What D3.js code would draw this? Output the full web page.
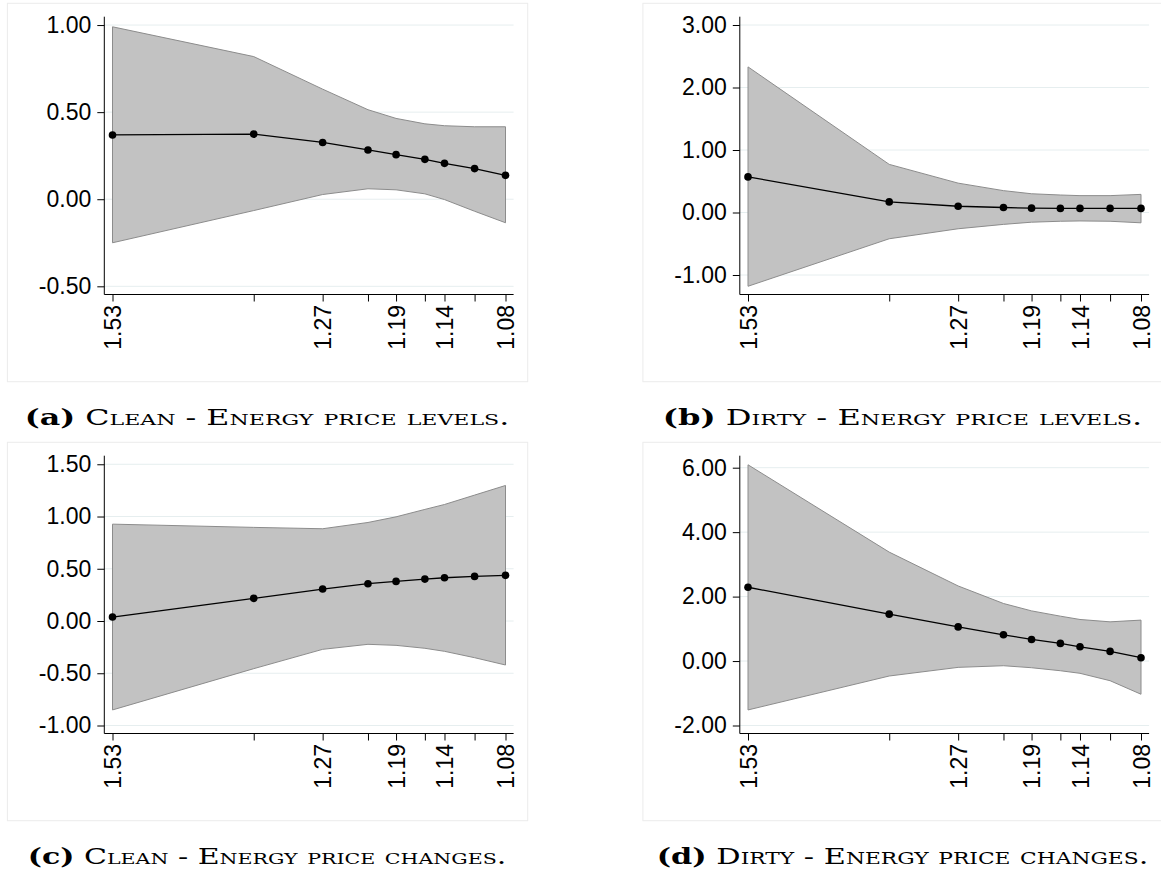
<!doctype html>
<html>
<head>
<meta charset="UTF-8">
<title>Energy price panels</title>
<script src="https://cdn.jsdelivr.net/npm/d3@7"></script>
<style>
  body { margin: 0; background: #fff; }
  svg { display: block; }
</style>
</head>
<body>
<script>
// x positions (reversed log axis), labelled subset
var xVals = [1.53, 1.35, 1.27, 1.22, 1.19, 1.16, 1.14, 1.11, 1.08];
var xLabels = [1.53, 1.27, 1.19, 1.14, 1.08];

// (a) clean - price levels
var aEst = [0.369, 0.374, 0.326, 0.283, 0.256, 0.229, 0.206, 0.176, 0.137];
var aHi  = [0.990, 0.819, 0.632, 0.514, 0.464, 0.433, 0.422, 0.416, 0.416];
var aLo  = [-0.250, -0.065, 0.027, 0.060, 0.054, 0.031, -0.002, -0.069, -0.135];
var aTicks = [-0.5, 0, 0.5, 1];

// (b) dirty - price levels
var bEst = [0.57, 0.17, 0.10, 0.08, 0.07, 0.066, 0.066, 0.066, 0.066];
var bHi  = [2.33, 0.77, 0.47, 0.35, 0.30, 0.28, 0.27, 0.27, 0.29];
var bLo  = [-1.18, -0.42, -0.26, -0.19, -0.155, -0.14, -0.135, -0.14, -0.165];
var bTicks = [-1, 0, 1, 2, 3];

// (c) clean - price changes
var cEst = [0.038, 0.217, 0.306, 0.357, 0.379, 0.401, 0.414, 0.427, 0.437];
var cHi  = [0.927, 0.896, 0.883, 0.943, 0.997, 1.068, 1.115, 1.205, 1.297];
var cLo  = [-0.851, -0.456, -0.271, -0.223, -0.233, -0.261, -0.290, -0.351, -0.421];
var cTicks = [-1, -0.5, 0, 0.5, 1, 1.5];

// (d) dirty - price changes
var dEst = [2.29, 1.455, 1.06, 0.815, 0.67, 0.547, 0.443, 0.30, 0.103];
var dHi  = [6.09, 3.38, 2.33, 1.786, 1.557, 1.393, 1.29, 1.217, 1.27];
var dLo  = [-1.517, -0.464, -0.196, -0.145, -0.207, -0.30, -0.38, -0.61, -1.03];
var dTicks = [-2, 0, 2, 4, 6];

var captionTags = ["(a)", "(b)", "(c)", "(d)"];
var captionTexts = ["Clean - Energy price levels.", "Dirty - Energy price levels.",
                    "Clean - Energy price changes.", "Dirty - Energy price changes."];
var captionWidths = [478, 476, 478, 476];

var W = 1161, H = 877;
var svg = d3.select("body").append("svg").attr("width", W).attr("height", H);

var panels = [
  {est: aEst, hi: aHi, lo: aLo, ticks: aTicks, dom: [-0.547, 1.048], dx: 0,     dy: 0},
  {est: bEst, hi: bHi, lo: bLo, ticks: bTicks, dom: [-1.312, 3.133], dx: 635.5, dy: 0},
  {est: cEst, hi: cHi, lo: cLo, ticks: cTicks, dom: [-1.0765, 1.582], dx: 0,    dy: 439},
  {est: dEst, hi: dHi, lo: dLo, ticks: dTicks, dom: [-2.248, 6.372], dx: 635.5, dy: 439}
];

// geometry of one panel (top-left panel coords)
var axisX = 104.3, plotL = 112.5, plotR = 505.5, plotEdge = 513.6;
var plotTop = 16.7, plotBot = 294.5;

var x = d3.scaleLog().domain([1.53, 1.08]).range([plotL, plotR]);
var fmt = function(d){ return d.toFixed(2); };

panels.forEach(function(p, i){
  var g = svg.append("g").attr("transform", "translate(" + p.dx + "," + p.dy + ")");
  var y = d3.scaleLinear().domain(p.dom).range([plotBot, plotTop]);

  // faint graph region border
  g.append("rect")
    .attr("x", 7.4).attr("y", 3.3).attr("width", 520.3).attr("height", 378.4)
    .attr("fill", "none").attr("stroke", "#ececec").attr("stroke-width", 1);

  // gridlines
  g.selectAll("line.grid").data(p.ticks).enter().append("line")
    .attr("class", "grid")
    .attr("x1", axisX).attr("x2", plotEdge)
    .attr("y1", function(d){ return y(d); }).attr("y2", function(d){ return y(d); })
    .attr("stroke", "#e6eeef").attr("stroke-width", 1);

  // confidence band
  var area = d3.area()
    .x(function(d, j){ return x(xVals[j]); })
    .y0(function(d, j){ return y(p.lo[j]); })
    .y1(function(d, j){ return y(p.hi[j]); });
  g.append("path").datum(p.est).attr("d", area)
    .attr("fill", "#c2c2c2").attr("stroke", "#8c8c8c").attr("stroke-width", 1);

  // estimate line + markers
  var line = d3.line()
    .x(function(d, j){ return x(xVals[j]); })
    .y(function(d){ return y(d); });
  g.append("path").datum(p.est).attr("d", line)
    .attr("fill", "none").attr("stroke", "#000").attr("stroke-width", 1.3);
  g.selectAll("circle").data(p.est).enter().append("circle")
    .attr("cx", function(d, j){ return x(xVals[j]); })
    .attr("cy", function(d){ return y(d); })
    .attr("r", 3.8).attr("fill", "#000");

  // y axis
  var yAxis = d3.axisLeft(y).tickValues(p.ticks).tickFormat(fmt).tickSize(7).tickPadding(6);
  var ya = g.append("g").attr("class", "ax").attr("transform", "translate(" + axisX + ",0)").call(yAxis);
  ya.select(".domain").attr("d", "M0," + plotTop + "V" + plotBot).attr("stroke", "#000");

  // x axis
  var xAxis = d3.axisBottom(x).tickValues(xVals)
    .tickFormat(function(d){ return xLabels.indexOf(d) >= 0 ? d.toFixed(2) : ""; })
    .tickSize(7).tickSizeOuter(0);
  var xa = g.append("g").attr("class", "ax").attr("transform", "translate(0," + plotBot + ")").call(xAxis);
  xa.select(".domain").attr("d", "M" + axisX + ",0H" + plotEdge).attr("stroke", "#000");
  xa.selectAll("text")
    .attr("transform", "rotate(-90)")
    .attr("x", -10.5).attr("y", 0).attr("dy", "0.35em")
    .style("text-anchor", "end");

  g.selectAll(".ax text").style("font-family", "'Liberation Sans', Arial, sans-serif")
    .style("font-size", "23px").attr("fill", "#000");
  g.selectAll(".tick line").attr("stroke", "#000");

  // caption, fitted horizontally to the reference width
  var cx = 267, cy = 425;
  var capG = g.append("g");
  var cap = capG.append("text")
    .attr("x", 0).attr("y", 0)
    .attr("text-anchor", "middle")
    .style("font-family", "'DejaVu Serif', 'Liberation Serif', serif")
    .style("font-size", "22px").attr("fill", "#000");
  cap.append("tspan").style("font-weight", "bold").text(captionTags[i]);
  cap.append("tspan").style("font-variant", "small-caps").text(" " + captionTexts[i]);
  var w = cap.node().getComputedTextLength();
  capG.attr("transform", "translate(" + cx + "," + cy + ") scale(" + (captionWidths[i] / w) + ",1)");
});
</script>
</body>
</html>
